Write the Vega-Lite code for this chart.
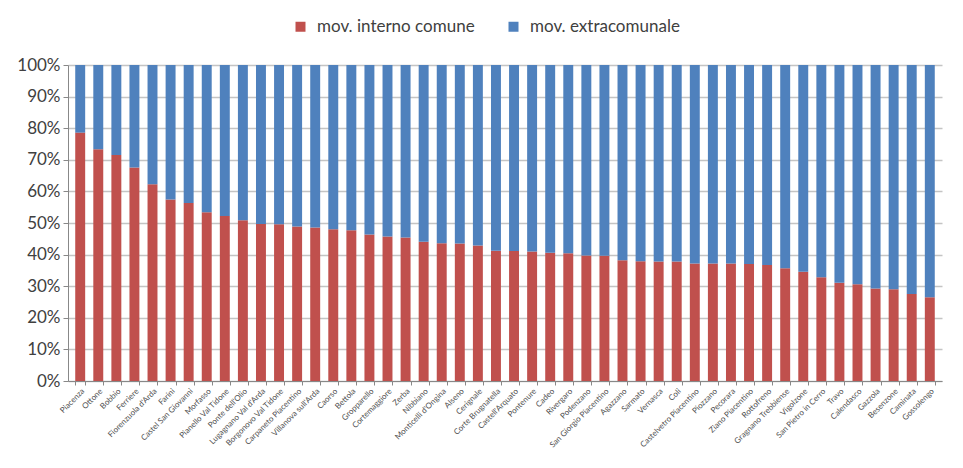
{
  "$schema": "https://vega.github.io/schema/vega-lite/v6.json",
  "width": 874,
  "height": 316,
  "autosize": {"type": "none"},
  "padding": {"left": 68, "top": 65, "right": 21, "bottom": 87},
  "background": "white",
  "config": {
    "view": {"stroke": null},
    "font": "Lato",
    "axis": {"labelColor": "#404040", "domainColor": "#888888", "tickColor": "#888888"}
  },
  "data": {
    "values": [
      {"comune": "Piacenza", "serie": "mov. interno comune", "v": 78.6},
      {"comune": "Piacenza", "serie": "mov. extracomunale", "v": 21.4},
      {"comune": "Ottone", "serie": "mov. interno comune", "v": 73.3},
      {"comune": "Ottone", "serie": "mov. extracomunale", "v": 26.7},
      {"comune": "Bobbio", "serie": "mov. interno comune", "v": 71.5},
      {"comune": "Bobbio", "serie": "mov. extracomunale", "v": 28.5},
      {"comune": "Ferriere", "serie": "mov. interno comune", "v": 67.6},
      {"comune": "Ferriere", "serie": "mov. extracomunale", "v": 32.4},
      {"comune": "Fiorenzuola d'Arda", "serie": "mov. interno comune", "v": 62.3},
      {"comune": "Fiorenzuola d'Arda", "serie": "mov. extracomunale", "v": 37.7},
      {"comune": "Farini", "serie": "mov. interno comune", "v": 57.4},
      {"comune": "Farini", "serie": "mov. extracomunale", "v": 42.6},
      {"comune": "Castel San Giovanni", "serie": "mov. interno comune", "v": 56.3},
      {"comune": "Castel San Giovanni", "serie": "mov. extracomunale", "v": 43.7},
      {"comune": "Morfasso", "serie": "mov. interno comune", "v": 53.4},
      {"comune": "Morfasso", "serie": "mov. extracomunale", "v": 46.6},
      {"comune": "Pianello Val Tidone", "serie": "mov. interno comune", "v": 52.2},
      {"comune": "Pianello Val Tidone", "serie": "mov. extracomunale", "v": 47.8},
      {"comune": "Ponte dell'Olio", "serie": "mov. interno comune", "v": 50.9},
      {"comune": "Ponte dell'Olio", "serie": "mov. extracomunale", "v": 49.1},
      {"comune": "Lugagnano Val d'Arda", "serie": "mov. interno comune", "v": 49.7},
      {"comune": "Lugagnano Val d'Arda", "serie": "mov. extracomunale", "v": 50.3},
      {"comune": "Borgonovo Val Tidone", "serie": "mov. interno comune", "v": 49.6},
      {"comune": "Borgonovo Val Tidone", "serie": "mov. extracomunale", "v": 50.4},
      {"comune": "Carpaneto Piacentino", "serie": "mov. interno comune", "v": 48.9},
      {"comune": "Carpaneto Piacentino", "serie": "mov. extracomunale", "v": 51.1},
      {"comune": "Villanova sull'Arda", "serie": "mov. interno comune", "v": 48.6},
      {"comune": "Villanova sull'Arda", "serie": "mov. extracomunale", "v": 51.4},
      {"comune": "Caorso", "serie": "mov. interno comune", "v": 48.0},
      {"comune": "Caorso", "serie": "mov. extracomunale", "v": 52.0},
      {"comune": "Bettola", "serie": "mov. interno comune", "v": 47.7},
      {"comune": "Bettola", "serie": "mov. extracomunale", "v": 52.3},
      {"comune": "Gropparello", "serie": "mov. interno comune", "v": 46.4},
      {"comune": "Gropparello", "serie": "mov. extracomunale", "v": 53.6},
      {"comune": "Cortemaggiore", "serie": "mov. interno comune", "v": 45.7},
      {"comune": "Cortemaggiore", "serie": "mov. extracomunale", "v": 54.3},
      {"comune": "Zerba", "serie": "mov. interno comune", "v": 45.4},
      {"comune": "Zerba", "serie": "mov. extracomunale", "v": 54.6},
      {"comune": "Nibbiano", "serie": "mov. interno comune", "v": 44.1},
      {"comune": "Nibbiano", "serie": "mov. extracomunale", "v": 55.9},
      {"comune": "Monticelli d'Ongina", "serie": "mov. interno comune", "v": 43.6},
      {"comune": "Monticelli d'Ongina", "serie": "mov. extracomunale", "v": 56.4},
      {"comune": "Alseno", "serie": "mov. interno comune", "v": 43.5},
      {"comune": "Alseno", "serie": "mov. extracomunale", "v": 56.5},
      {"comune": "Cerignale", "serie": "mov. interno comune", "v": 42.9},
      {"comune": "Cerignale", "serie": "mov. extracomunale", "v": 57.1},
      {"comune": "Corte Brugnatella", "serie": "mov. interno comune", "v": 41.2},
      {"comune": "Corte Brugnatella", "serie": "mov. extracomunale", "v": 58.8},
      {"comune": "Castell'Arquato", "serie": "mov. interno comune", "v": 41.1},
      {"comune": "Castell'Arquato", "serie": "mov. extracomunale", "v": 58.9},
      {"comune": "Pontenure", "serie": "mov. interno comune", "v": 41.0},
      {"comune": "Pontenure", "serie": "mov. extracomunale", "v": 59.0},
      {"comune": "Cadeo", "serie": "mov. interno comune", "v": 40.6},
      {"comune": "Cadeo", "serie": "mov. extracomunale", "v": 59.4},
      {"comune": "Rivergaro", "serie": "mov. interno comune", "v": 40.4},
      {"comune": "Rivergaro", "serie": "mov. extracomunale", "v": 59.6},
      {"comune": "Podenzano", "serie": "mov. interno comune", "v": 39.7},
      {"comune": "Podenzano", "serie": "mov. extracomunale", "v": 60.3},
      {"comune": "San Giorgio Piacentino", "serie": "mov. interno comune", "v": 39.6},
      {"comune": "San Giorgio Piacentino", "serie": "mov. extracomunale", "v": 60.4},
      {"comune": "Agazzano", "serie": "mov. interno comune", "v": 38.2},
      {"comune": "Agazzano", "serie": "mov. extracomunale", "v": 61.8},
      {"comune": "Sarmato", "serie": "mov. interno comune", "v": 37.9},
      {"comune": "Sarmato", "serie": "mov. extracomunale", "v": 62.1},
      {"comune": "Vernasca", "serie": "mov. interno comune", "v": 37.8},
      {"comune": "Vernasca", "serie": "mov. extracomunale", "v": 62.2},
      {"comune": "Coli", "serie": "mov. interno comune", "v": 37.8},
      {"comune": "Coli", "serie": "mov. extracomunale", "v": 62.2},
      {"comune": "Castelvetro Piacentino", "serie": "mov. interno comune", "v": 37.2},
      {"comune": "Castelvetro Piacentino", "serie": "mov. extracomunale", "v": 62.8},
      {"comune": "Piozzano", "serie": "mov. interno comune", "v": 37.2},
      {"comune": "Piozzano", "serie": "mov. extracomunale", "v": 62.8},
      {"comune": "Pecorara", "serie": "mov. interno comune", "v": 37.2},
      {"comune": "Pecorara", "serie": "mov. extracomunale", "v": 62.8},
      {"comune": "Ziano Piacentino", "serie": "mov. interno comune", "v": 37.0},
      {"comune": "Ziano Piacentino", "serie": "mov. extracomunale", "v": 63.0},
      {"comune": "Rottofreno", "serie": "mov. interno comune", "v": 36.7},
      {"comune": "Rottofreno", "serie": "mov. extracomunale", "v": 63.3},
      {"comune": "Gragnano Trebbiense", "serie": "mov. interno comune", "v": 35.7},
      {"comune": "Gragnano Trebbiense", "serie": "mov. extracomunale", "v": 64.3},
      {"comune": "Vigolzone", "serie": "mov. interno comune", "v": 34.6},
      {"comune": "Vigolzone", "serie": "mov. extracomunale", "v": 65.4},
      {"comune": "San Pietro in Cerro", "serie": "mov. interno comune", "v": 32.8},
      {"comune": "San Pietro in Cerro", "serie": "mov. extracomunale", "v": 67.2},
      {"comune": "Travo", "serie": "mov. interno comune", "v": 31.1},
      {"comune": "Travo", "serie": "mov. extracomunale", "v": 68.9},
      {"comune": "Calendasco", "serie": "mov. interno comune", "v": 30.6},
      {"comune": "Calendasco", "serie": "mov. extracomunale", "v": 69.4},
      {"comune": "Gazzola", "serie": "mov. interno comune", "v": 29.3},
      {"comune": "Gazzola", "serie": "mov. extracomunale", "v": 70.7},
      {"comune": "Besenzone", "serie": "mov. interno comune", "v": 29.0},
      {"comune": "Besenzone", "serie": "mov. extracomunale", "v": 71.0},
      {"comune": "Caminata", "serie": "mov. interno comune", "v": 27.5},
      {"comune": "Caminata", "serie": "mov. extracomunale", "v": 72.5},
      {"comune": "Gossolengo", "serie": "mov. interno comune", "v": 26.5},
      {"comune": "Gossolengo", "serie": "mov. extracomunale", "v": 73.5}
    ]
  },
  "mark": {"type": "bar"},
  "encoding": {
    "x": {
      "field": "comune",
      "type": "nominal",
      "sort": null,
      "scale": {"paddingInner": 0.45, "paddingOuter": 0.4},
      "axis": {
        "title": null,
        "labelAngle": -45,
        "labelAlign": "right",
        "labelBaseline": "top",
        "labelFontSize": 8,
        "labelPadding": 2,
        "labelColor": "#505050",
        "tickBand": "extent",
        "tickSize": 4,
        "labelOverlap": false
      }
    },
    "y": {
      "field": "v",
      "type": "quantitative",
      "stack": "normalize",
      "axis": {
        "title": null,
        "format": ".0%",
        "values": [0, 0.1, 0.2, 0.3, 0.4, 0.5, 0.6, 0.7, 0.8, 0.9, 1],
        "labelOverlap": false,
        "labelFontSize": 17,
        "labelPadding": 3,
        "tickSize": 5,
        "grid": true,
        "gridColor": "#c4c4c4",
        "gridWidth": 1.5
      }
    },
    "color": {
      "field": "serie",
      "type": "nominal",
      "scale": {
        "domain": ["mov. interno comune", "mov. extracomunale"],
        "range": ["#C0504D", "#4F81BD"]
      },
      "legend": {
        "title": null,
        "orient": "none",
        "direction": "horizontal",
        "legendX": 224,
        "legendY": -47,
        "symbolType": "square",
        "symbolSize": 100,
        "symbolStrokeWidth": 0,
        "labelFontSize": 17,
        "labelColor": "#404040",
        "columnPadding": 30,
        "labelOffset": 8
      }
    },
    "order": {"field": "serie", "sort": "descending"}
  }
}
